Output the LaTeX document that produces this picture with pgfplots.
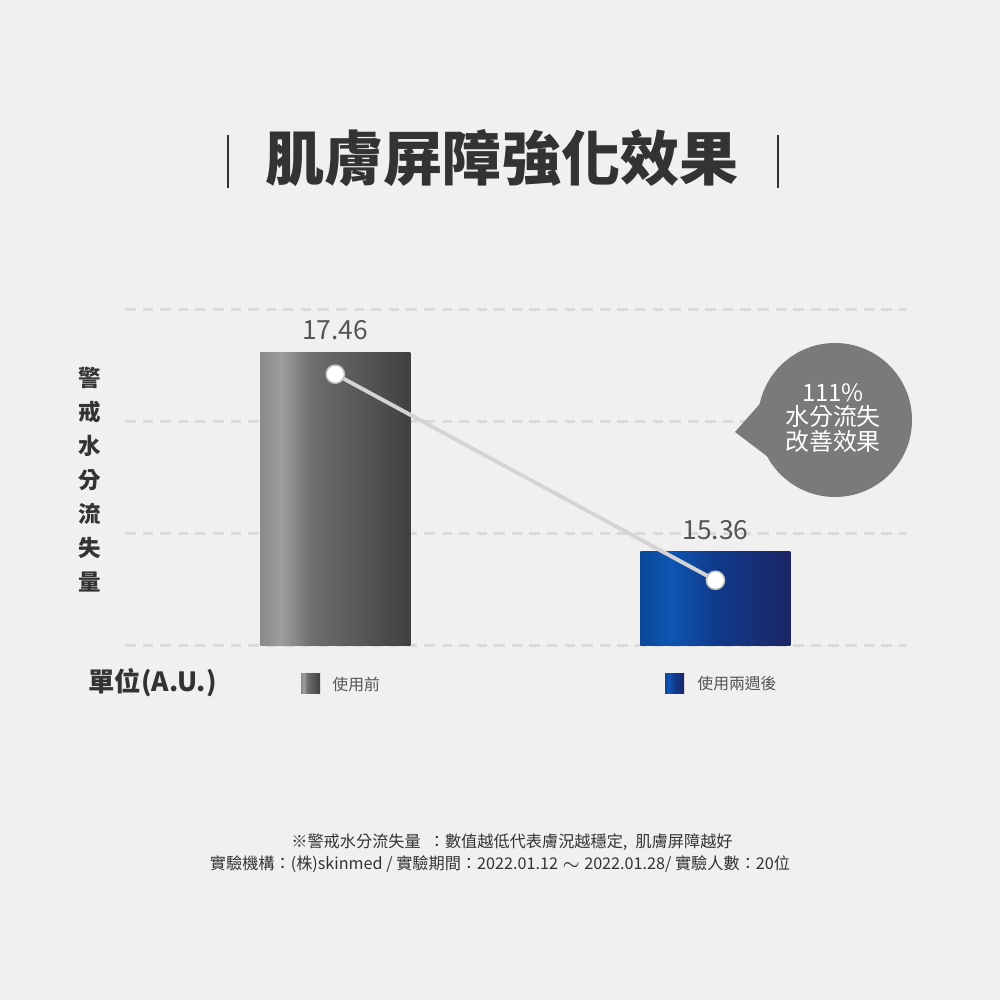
\documentclass[border=0pt]{standalone}
\usepackage{fontspec}
\setmainfont{Noto Sans CJK TC}
\usepackage{pgfplots}
\pgfplotsset{compat=1.18}
\definecolor{bgGray}{RGB}{240,240,240}
\definecolor{gridGray}{RGB}{218,218,218}
\definecolor{textDark}{RGB}{51,51,51}
\definecolor{textMid}{RGB}{85,85,85}
\definecolor{bubbleGray}{RGB}{122,122,122}
\definecolor{lineGray}{RGB}{212,212,212}
\definecolor{gA}{RGB}{138,138,138}
\definecolor{gB}{RGB}{158,158,158}
\definecolor{gC}{RGB}{110,110,110}
\definecolor{gD}{RGB}{64,64,64}
\definecolor{bA}{RGB}{10,72,152}
\definecolor{bB}{RGB}{14,86,178}
\definecolor{bC}{RGB}{16,58,140}
\definecolor{bD}{RGB}{28,36,100}
\pgfdeclarehorizontalshading{barGray}{100bp}{color(0bp)=(gA); color(25bp)=(gA); color(32bp)=(gB); color(42bp)=(gC); color(75bp)=(gD); color(100bp)=(gD)}
\pgfdeclarehorizontalshading{barBlue}{100bp}{color(0bp)=(bA); color(25bp)=(bA); color(35bp)=(bB); color(50bp)=(bC); color(75bp)=(bD); color(100bp)=(bD)}
\begin{document}
\begin{tikzpicture}[x=0.01cm,y=0.01cm]
\fill[bgGray] (0,0) rectangle (1000,1000);
% title
\node[text=textDark, font=\fontsize{16.8}{20}\selectfont\bfseries] at (502,842) {肌膚屏障強化效果};
\draw[textDark, line width=0.6pt] (228,865) -- (228,812);
\draw[textDark, line width=0.6pt] (778,865) -- (778,812);
\begin{axis}[
    at={(1.25cm,3.54cm)}, anchor=south west,
    scale only axis, width=7.8cm, height=3.36cm,
    xmin=-0.553, xmax=1.5,
    ymin=14.37, ymax=17.91,
    axis line style={draw=none},
    xtick=\empty,
    ytick={14.37,15.55,16.73,17.91},
    yticklabels={},
    tick style={draw=none},
    ymajorgrids,
    major grid style={gridGray, dash pattern=on 3pt off 2pt, line width=0.8pt},
    bar width=1.5cm,
    clip=false,
    nodes near coords style={text=textMid, font=\fontsize{7.5}{9}\selectfont},
    ]
    \addplot[ybar, bar shift=0pt, draw=none, shading=barGray,
        nodes near coords, point meta=explicit symbolic]
        coordinates {(0,17.46) [17.46]};
    \addplot[ybar, bar shift=0pt, draw=none, shading=barBlue,
        nodes near coords, point meta=explicit symbolic]
        coordinates {(1,15.36) [15.36]};
    \addplot[lineGray, line width=1.1pt, mark=*,
        mark options={fill=white, draw=black!25, line width=0.4pt},
        mark size=2.6pt]
        coordinates {(0,17.23) (1,15.06)};
\end{axis}
% y label
\foreach \c [count=\i from 0] in {警,戒,水,分,流,失,量}
    \node[text=textDark, font=\fontsize{6.4}{7}\selectfont\bfseries] at (90,622-\i*34) {\c};
\node[text=textDark, font=\fontsize{7.5}{8}\selectfont\bfseries, anchor=west] at (76,317) {單位(A.U.)};
% legend
\shade[shading=barGray] (301,306) rectangle (320,326);
\node[text=textMid, font=\fontsize{4.5}{5}\selectfont, anchor=west] at (320,316) {使用前};
\shade[shading=barBlue] (665,306) rectangle (684,326);
\node[text=textMid, font=\fontsize{4.5}{5}\selectfont, anchor=west] at (685,316) {使用兩週後};
% bubble
\fill[bubbleGray] (835,580) circle (77);
\fill[bubbleGray] (765,602) -- (735,568) -- (772,540) -- cycle;
\node[text=white, font=\fontsize{6.8}{8}\selectfont, align=center] at (833,582)
    {111\%\\[-1pt]水分流失\\[-1pt]改善效果};
% footnote
\node[text=textDark, font=\fontsize{4.6}{5}\selectfont] at (512,158)
    {※警戒水分流失量\enspace：數值越低代表膚況越穩定,\enspace 肌膚屏障越好};
\node[text=textDark, font=\fontsize{4.6}{5}\selectfont] at (500,136)
    {實驗機構：(株)skinmed / 實驗期間：2022.01.12 $\sim$ 2022.01.28/ 實驗人數：20位};
\end{tikzpicture}
\end{document}
